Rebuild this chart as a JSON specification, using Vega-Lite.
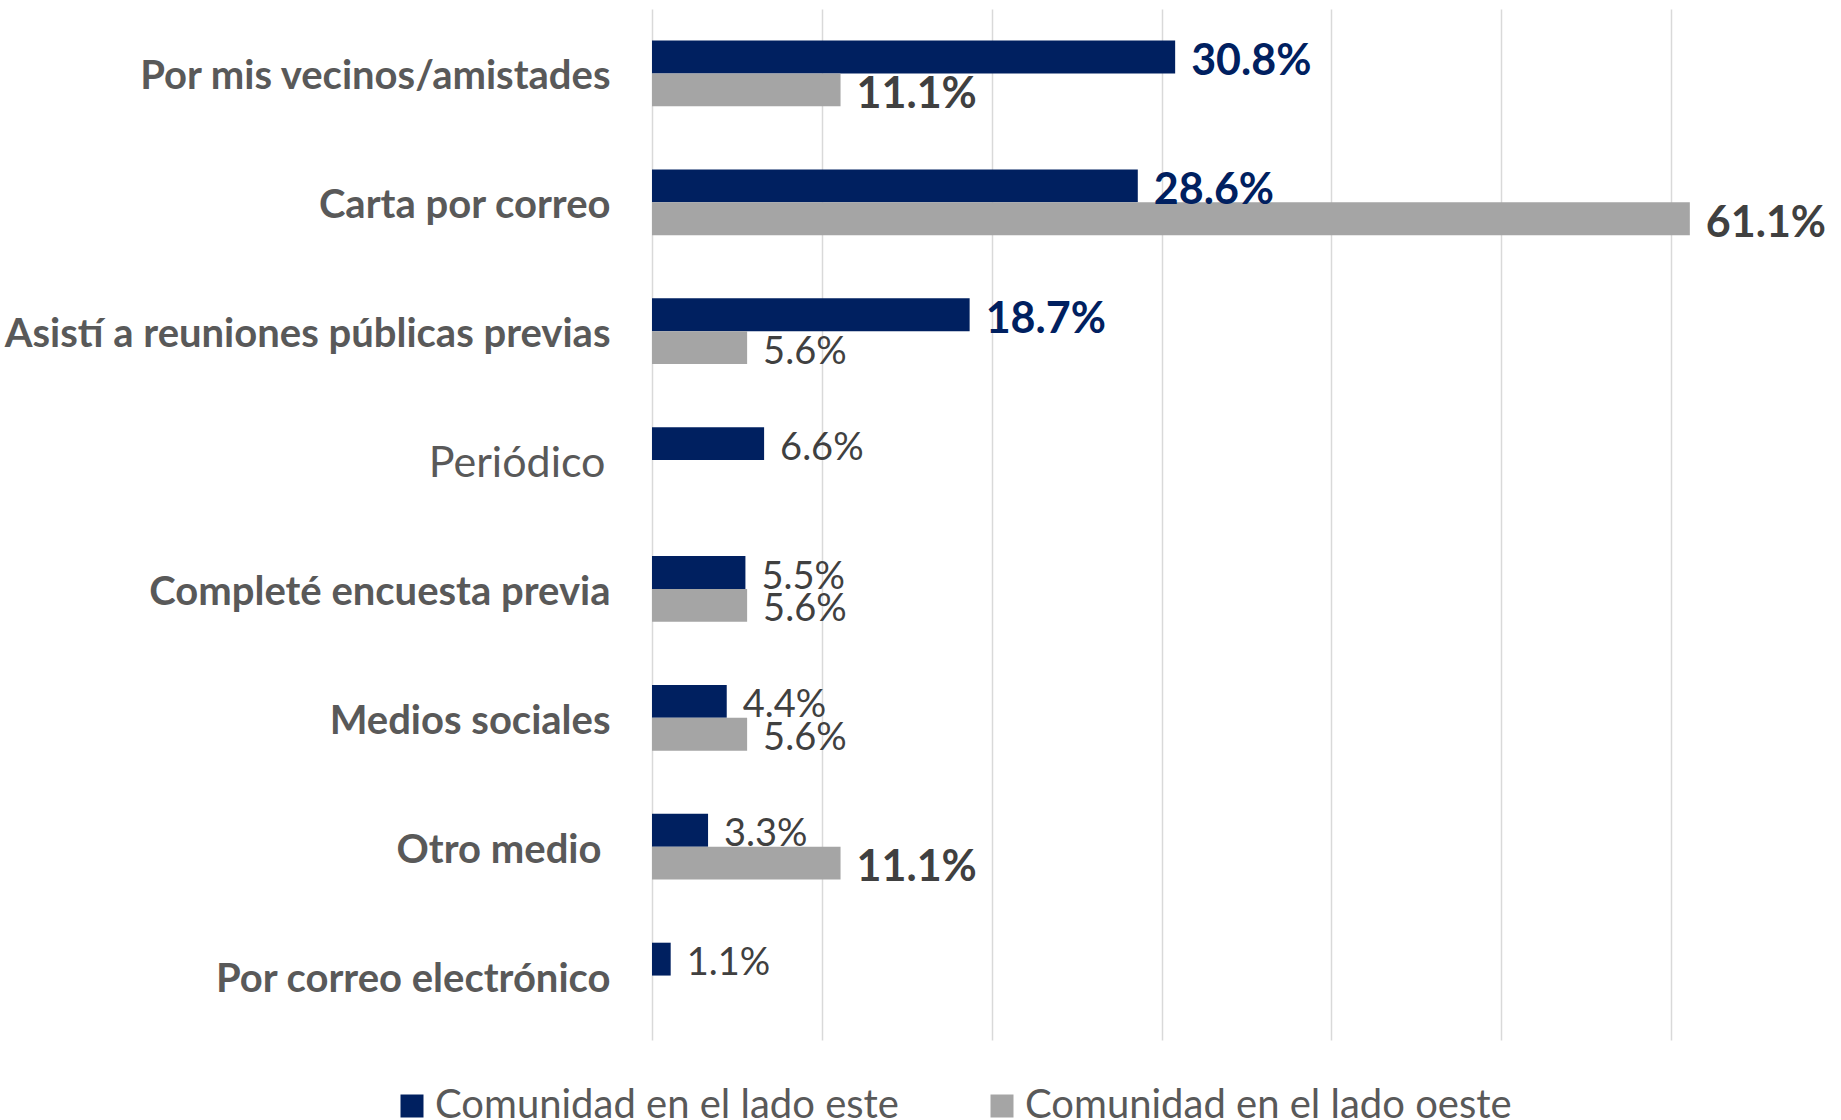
{
  "$schema": "https://vega.github.io/schema/vega-lite/v6.json",
  "width": 1189,
  "height": 1031,
  "autosize": {"type": "none"},
  "padding": {"left": 652, "top": 9, "right": 0, "bottom": 80},
  "background": "white",
  "config": {"font": "Lato", "view": {"stroke": null}},
  "data": {
    "values": [
      {"medio": "Por mis vecinos/amistades", "grupo": "Comunidad en el lado este", "valor": 0.308},
      {"medio": "Por mis vecinos/amistades", "grupo": "Comunidad en el lado oeste", "valor": 0.111},
      {"medio": "Carta por correo", "grupo": "Comunidad en el lado este", "valor": 0.286},
      {"medio": "Carta por correo", "grupo": "Comunidad en el lado oeste", "valor": 0.611},
      {"medio": "Asistí a reuniones públicas previas", "grupo": "Comunidad en el lado este", "valor": 0.187},
      {"medio": "Asistí a reuniones públicas previas", "grupo": "Comunidad en el lado oeste", "valor": 0.056},
      {"medio": "Periódico", "grupo": "Comunidad en el lado este", "valor": 0.066},
      {"medio": "Completé encuesta previa", "grupo": "Comunidad en el lado este", "valor": 0.055},
      {"medio": "Completé encuesta previa", "grupo": "Comunidad en el lado oeste", "valor": 0.056},
      {"medio": "Medios sociales", "grupo": "Comunidad en el lado este", "valor": 0.044},
      {"medio": "Medios sociales", "grupo": "Comunidad en el lado oeste", "valor": 0.056},
      {"medio": "Otro medio ", "grupo": "Comunidad en el lado este", "valor": 0.033},
      {"medio": "Otro medio ", "grupo": "Comunidad en el lado oeste", "valor": 0.111},
      {"medio": "Por correo electrónico", "grupo": "Comunidad en el lado este", "valor": 0.011}
    ]
  },
  "encoding": {
    "y": {
      "field": "medio",
      "type": "nominal",
      "sort": null,
      "scale": {"paddingInner": 0.49, "paddingOuter": 0.245},
      "axis": {
        "title": null,
        "domain": false,
        "ticks": false,
        "grid": false,
        "labelPadding": {
          "condition": [
            {"test": "datum.value === 'Otro medio '", "value": 51},
            {"test": "datum.value === 'Periódico'", "value": 47}
          ],
          "value": 42
        },
        "labelOffset": 4,
        "labelLimit": 700,
        "labelColor": "#595959",
        "labelFontSize": {"condition": {"test": "datum.value === 'Periódico'", "value": 43}, "value": 40},
        "labelFontWeight": {"condition": {"test": "datum.value === 'Periódico'", "value": "normal"}, "value": "bold"}
      }
    },
    "yOffset": {
      "field": "grupo",
      "type": "nominal",
      "sort": ["Comunidad en el lado este", "Comunidad en el lado oeste"]
    },
    "x": {
      "field": "valor",
      "type": "quantitative",
      "scale": {"domain": [0, 0.7]},
      "axis": {
        "title": null,
        "labels": false,
        "ticks": false,
        "domain": false,
        "grid": true,
        "values": [0, 0.1, 0.2, 0.3, 0.4, 0.5, 0.6],
        "gridColor": "#D9D9D9",
        "gridWidth": 1.5
      }
    }
  },
  "layer": [
    {
      "mark": {"type": "bar"},
      "encoding": {
        "color": {
          "field": "grupo",
          "type": "nominal",
          "scale": {
            "domain": ["Comunidad en el lado este", "Comunidad en el lado oeste"],
            "range": ["#002060", "#A5A5A5"]
          },
          "legend": {
            "title": null,
            "orient": "none",
            "legendX": -260,
            "legendY": 1077,
            "direction": "horizontal",
            "symbolType": "square",
            "symbolSize": 529,
            "symbolStrokeWidth": 0,
            "labelFontSize": 40,
            "labelColor": "#595959",
            "labelLimit": 800,
            "labelOffset": 3,
            "columnPadding": 83,
            "padding": 0
          }
        }
      }
    },
    {
      "transform": [{"filter": "datum.valor >= 0.1"}],
      "mark": {"type": "text", "align": "left", "baseline": "middle", "dx": 16, "dy": 5, "fontSize": 43, "fontWeight": "bold"},
      "encoding": {
        "text": {"field": "valor", "type": "quantitative", "format": ".1%"},
        "color": {
          "condition": {"test": "datum.grupo === 'Comunidad en el lado este'", "value": "#002060"},
          "value": "#404040"
        }
      }
    },
    {
      "transform": [{"filter": "datum.valor < 0.1"}],
      "mark": {"type": "text", "align": "left", "baseline": "middle", "dx": 16, "dy": 5, "fontSize": 38, "fontWeight": "normal"},
      "encoding": {
        "text": {"field": "valor", "type": "quantitative", "format": ".1%"},
        "color": {"value": "#404040"}
      }
    }
  ]
}
